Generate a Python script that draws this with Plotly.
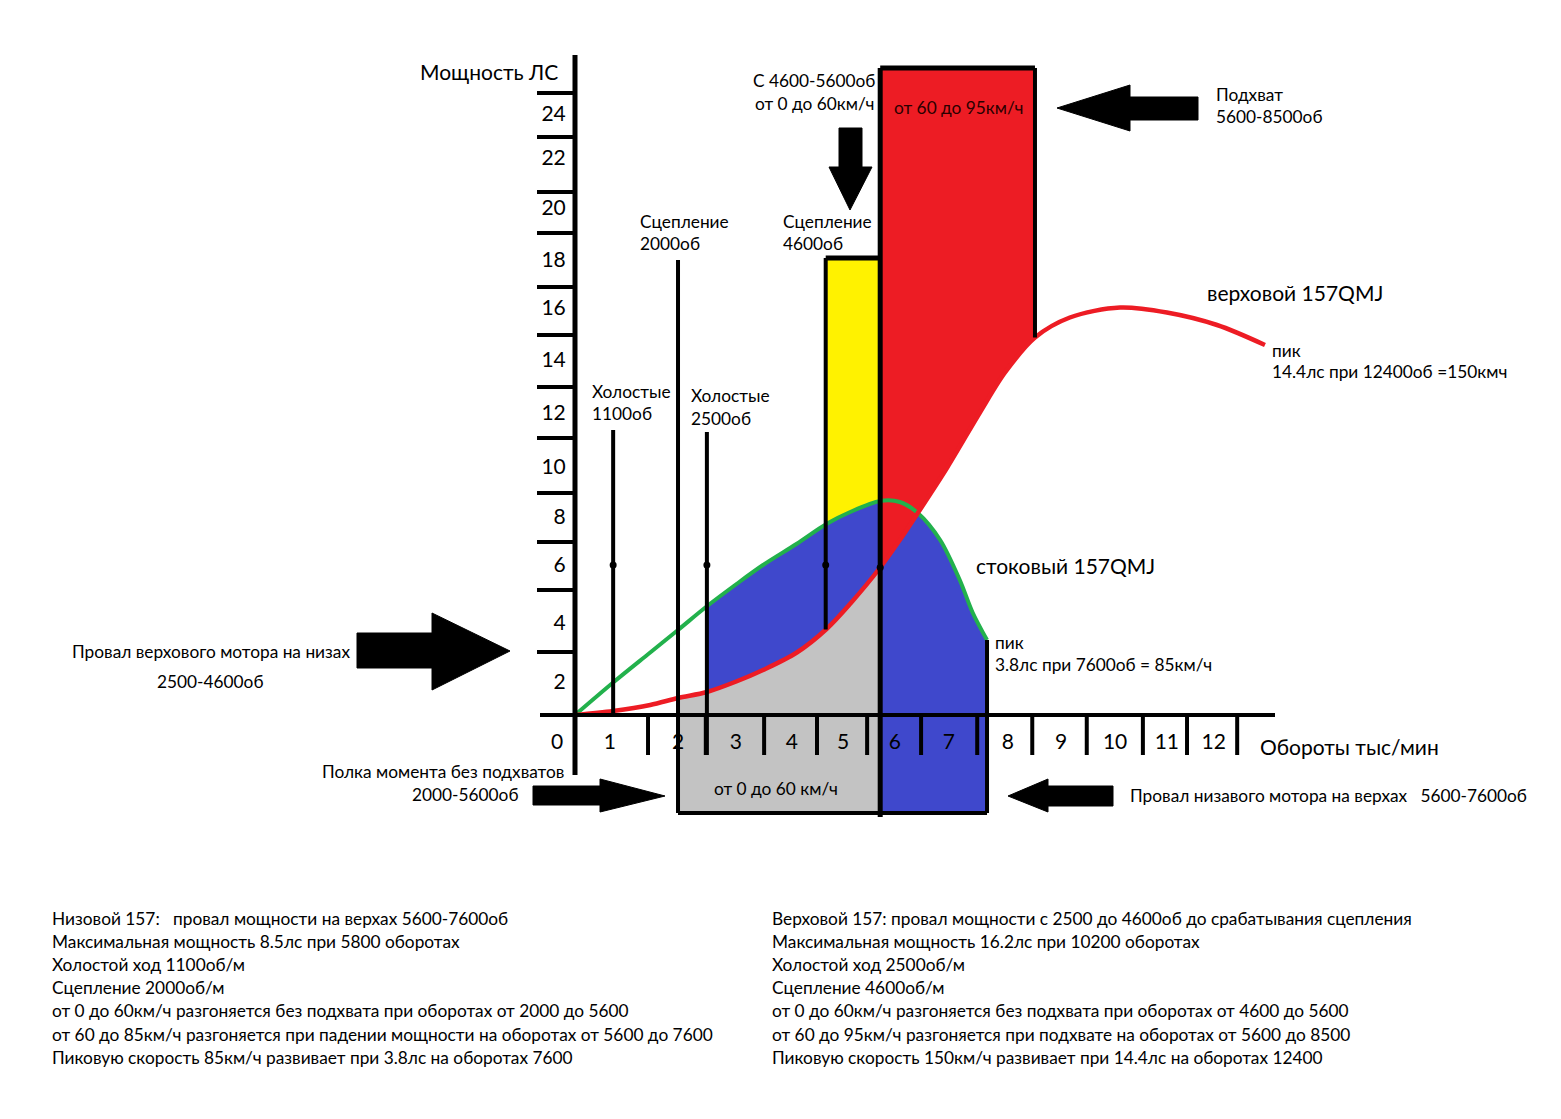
import plotly.graph_objects as go

# ---------------- data (x in thousand rpm, y in hp) ----------------
# stock engine (green) curve
stock_x = [0, 0.70, 1.38, 1.89, 2.42, 2.97, 3.45, 4.07, 4.62, 5.05, 5.60, 5.96, 6.29, 6.70, 7.06, 7.30, 7.56]
stock_y = [0, 1.30, 2.50, 3.40, 4.35, 5.25, 6.00, 6.85, 7.65, 8.12, 8.56, 8.52, 8.08, 7.00, 5.40, 4.08, 3.00]
# high-rev engine (red) curve
tuned_x = [0, 0.70, 1.38, 1.89, 2.42, 2.97, 3.45, 4.07, 4.62, 5.05, 5.60, 5.96, 6.29, 6.83, 7.43, 7.89, 8.44, 9.08, 10.0, 10.86, 11.78, 12.66]
tuned_y = [0, 0.16, 0.40, 0.68, 0.92, 1.35, 1.80, 2.50, 3.45, 4.45, 5.90, 7.00, 8.08, 9.90, 12.1, 13.7, 15.1, 15.9, 16.3, 16.1, 15.6, 14.8]

# marked rpm values (thousand rpm)
idle_low = 0.70      # 1100
clutch_low = 1.89    # 2000
idle_high = 2.42     # 2500
clutch_high = 4.60   # 4600
shift_rpm = 5.60     # 5600
stock_peak = 7.56    # 7600
tuned_pickup = 8.44  # 8500

# bar heights (hp)
pickup_top = 25.88
clutch_top = 18.28
clutch_low_top = 18.2
idle_top = 11.4
speed_box_bottom = -3.92

# axis tick labels and their positions
x_tick_text = ["0", "1", "2", "3", "4", "5", "6", "7", "8", "9", "10", "11", "12"]
x_tick_pos = [-0.33, 0.64, 1.89, 2.95, 3.98, 4.92, 5.87, 6.86, 7.94, 8.92, 9.91, 10.86, 11.72]
x_tick_marks = [1.34, 2.40, 3.47, 4.44, 5.36, 6.35, 7.38, 8.39, 9.39, 10.42, 11.23, 12.15]
y_tick_text = ["24", "22", "20", "18", "16", "14", "12", "10", "8", "6", "4", "2"]
y_tick_pos = [24.04, 22.28, 20.28, 18.2, 16.28, 14.2, 12.08, 9.92, 7.92, 6.0, 3.68, 1.32]
y_tick_marks = [24.88, 23.12, 20.92, 19.28, 17.12, 15.2, 13.12, 11.08, 8.88, 6.92, 5.0, 2.52]

# ---------------- geometry helpers ----------------
W, H = 1561, 1119
OFF = 8.0  # page body margin
X0PX, XS = 575.0, 54.5
Y0PX, YS = 715.0, 25.0
xr = [(OFF - X0PX) / XS, (OFF + W - X0PX) / XS]
yr = [(Y0PX - (OFF + H)) / YS, (Y0PX - OFF) / YS]

def dx(px):
    return (px - X0PX) / XS

def dy(py):
    return (Y0PX - py) / YS

def interp(xs, ys, x):
    for i in range(len(xs) - 1):
        if xs[i] <= x <= xs[i + 1]:
            t = (x - xs[i]) / (xs[i + 1] - xs[i])
            return ys[i] + t * (ys[i + 1] - ys[i])
    return ys[-1]

def seg(xs, ys, a, b):
    px_, py_ = [], []
    for x, y in zip(xs, ys):
        if a <= x <= b:
            px_.append(x); py_.append(y)
    return px_, py_

GRAY = "#c3c3c3"
BLUE = "#3f48cc"
RED = "#ed1c24"
YEL = "#fff200"
GRN = "#22b14c"
FONT = "Lato"
FS = 17.3

fig = go.Figure()

def poly(xs, ys, color):
    fig.add_trace(go.Scatter(x=xs + [xs[0]], y=ys + [ys[0]], mode="lines", fill="toself",
                             fillcolor=color, line=dict(width=0, color=color),
                             hoverinfo="skip", showlegend=False))

# gray: under red curve from clutch_low to shift + box under axis
rx, ry = seg(tuned_x, tuned_y, clutch_low, shift_rpm)
poly(rx + [shift_rpm, clutch_low], ry + [speed_box_bottom, speed_box_bottom], GRAY)

# blue left: between green and red from idle_high to shift
gx, gy = seg(stock_x, stock_y, idle_high, shift_rpm)
rx2, ry2 = seg(tuned_x, tuned_y, idle_high, shift_rpm)
poly(gx + rx2[::-1], gy + ry2[::-1], BLUE)

# blue right: under min(red, green) from shift to stock peak + box under axis
cross_x = 6.29
rx3, ry3 = seg(tuned_x, tuned_y, shift_rpm, cross_x)
gx3, gy3 = seg(stock_x, stock_y, cross_x + 0.01, stock_peak)
poly([shift_rpm] + rx3 + gx3 + [stock_peak],
     [speed_box_bottom] + ry3 + gy3 + [speed_box_bottom], BLUE)

# yellow: clutch engagement block
gx4, gy4 = seg(stock_x, stock_y, clutch_high, shift_rpm)
poly([clutch_high, shift_rpm] + gx4[::-1], [clutch_top, clutch_top] + gy4[::-1], YEL)

# red: pickup block above red curve
rx5, ry5 = seg(tuned_x, tuned_y, shift_rpm, tuned_pickup)
poly([shift_rpm, tuned_pickup] + rx5[::-1], [pickup_top, pickup_top] + ry5[::-1], RED)

# curves
fig.add_trace(go.Scatter(x=stock_x, y=stock_y, mode="lines", line=dict(color=GRN, width=4, shape="spline", smoothing=0.9),
                         hoverinfo="skip", showlegend=False))
fig.add_trace(go.Scatter(x=tuned_x, y=tuned_y, mode="lines", line=dict(color=RED, width=4.5, shape="spline", smoothing=0.9),
                         hoverinfo="skip", showlegend=False))

# ---------------- black lines (shapes) ----------------
shapes = []

def line(x0, y0, x1, y1, w=4, color="black"):
    shapes.append(dict(type="line", xref="x", yref="y", x0=x0, y0=y0, x1=x1, y1=y1,
                       line=dict(color=color, width=w), layer="above"))

# axes
line(0, dy(775), 0, dy(55), 5)
line(dx(540), 0, dx(1275), 0, 4)
for yv in y_tick_marks:
    line(dx(537), yv, 0, yv, 4)
for xv in x_tick_marks:
    line(xv, 0, xv, dy(755), 4)

# rpm markers
line(idle_low, 0, idle_low, idle_top, 4)
line(clutch_low, speed_box_bottom, clutch_low, clutch_low_top, 4)
line(idle_high, dy(755), idle_high, dy(432), 4)
line(clutch_high, interp(tuned_x, tuned_y, clutch_high), clutch_high, clutch_top, 4)
line(shift_rpm, dy(817), shift_rpm, pickup_top, 5)
line(stock_peak, speed_box_bottom, stock_peak, interp(stock_x, stock_y, stock_peak), 4)
line(tuned_pickup, interp(tuned_x, tuned_y, tuned_pickup), tuned_pickup, pickup_top, 4)
line(clutch_high, clutch_top, shift_rpm, clutch_top, 5)
line(shift_rpm, pickup_top, tuned_pickup, pickup_top, 5)
line(clutch_low, speed_box_bottom, stock_peak, speed_box_bottom, 4)

# block arrows (pixel outlines)
def arrow_path(pts):
    p = "M " + " L ".join(f"{dx(a):.4f},{dy(b):.4f}" for a, b in pts) + " Z"
    shapes.append(dict(type="path", xref="x", yref="y", path=p, fillcolor="black",
                       line=dict(color="black", width=1), layer="above"))

arrow_path([(357, 633), (432, 633), (432, 613), (510, 651), (432, 690), (432, 668), (357, 668)])
arrow_path([(1198, 97), (1130, 97), (1130, 85), (1057, 108), (1130, 131), (1130, 120), (1198, 120)])
arrow_path([(839, 128), (862, 128), (862, 167), (872, 167), (850, 210), (829, 167), (839, 167)])
arrow_path([(533, 786), (600, 786), (600, 779), (665, 796), (600, 812), (600, 805), (533, 805)])
arrow_path([(1113, 786), (1048, 786), (1048, 779), (1008, 796), (1048, 812), (1048, 806), (1113, 806)])

# dots at 6 hp
fig.add_trace(go.Scatter(x=[idle_low, idle_high, clutch_high, shift_rpm], y=[6, 6, 6, 5.9], mode="markers",
                         marker=dict(color="black", size=7), hoverinfo="skip", showlegend=False))

# ---------------- annotations ----------------
anns = []

def txt(px, py, s, size=FS, anchor="left", color="black"):
    anns.append(dict(x=(px - OFF) / W, y=1 - (py - OFF) / H, xref="paper", yref="paper", text=s, showarrow=False,
                     xanchor=anchor, yanchor="middle", font=dict(family=FONT, size=size, color=color)))

txt(418, 71, "Мощность ЛС", 21)
txt(877, 81, "С 4600-5600об", FS, "right")
txt(877, 103, "от 0 до 60км/ч", FS, "right")
txt(959, 107, "от 60 до 95км/ч", FS, "center", "#2a0000")
txt(1214, 94, "Подхват")
txt(1214, 117, "5600-8500об")
txt(638, 221, "Сцепление")
txt(638, 243, "2000об")
txt(781, 221, "Сцепление")
txt(781, 243, "4600об")
txt(1205, 292, "верховой 157QMJ", 21)
txt(1270, 350, "пик")
txt(1270, 372, "14.4лс при 12400об =150кмч")
txt(590, 391, "Холостые")
txt(590, 413, "1100об")
txt(689, 395, "Холостые")
txt(689, 418, "2500об")
txt(974, 565, "стоковый 157QMJ", 21)
txt(993, 642, "пик")
txt(993, 664, "3.8лс при 7600об = 85км/ч")
txt(70, 651, "Провал верхового мотора на низах")
txt(211, 681, "2500-4600об", FS, "center")
txt(1258, 746, "Обороты тыс/мин", 21)
txt(320, 771, "Полка момента без подхватов")
txt(521, 794, "2000-5600об", FS, "right")
txt(776, 789, "от 0 до 60 км/ч", FS, "center")
txt(1128, 795, "Провал низавого мотора на верхах   5600-7600об")

left_block = [
    "Низовой 157:   провал мощности на верхах 5600-7600об",
    "Максимальная мощность 8.5лс при 5800 оборотах",
    "Холостой ход 1100об/м",
    "Сцепление 2000об/м",
    "от 0 до 60км/ч разгоняется без подхвата при оборотах от 2000 до 5600",
    "от 60 до 85км/ч разгоняется при падении мощности на оборотах от 5600 до 7600",
    "Пиковую скорость 85км/ч развивает при 3.8лс на оборотах 7600",
]
right_block = [
    "Верховой 157: провал мощности с 2500 до 4600об до срабатывания сцепления",
    "Максимальная мощность 16.2лс при 10200 оборотах",
    "Холостой ход 2500об/м",
    "Сцепление 4600об/м",
    "от 0 до 60км/ч разгоняется без подхвата при оборотах от 4600 до 5600",
    "от 60 до 95км/ч разгоняется при подхвате на оборотах от 5600 до 8500",
    "Пиковую скорость 150км/ч развивает при 14.4лс на оборотах 12400",
]
for i, s in enumerate(left_block):
    txt(50, 918 + i * 23.2, s)
for i, s in enumerate(right_block):
    txt(770, 918 + i * 23.2, s)

fig.update_layout(
    width=W, height=H, margin=dict(l=0, r=0, t=0, b=0),
    paper_bgcolor="white", plot_bgcolor="white",
    shapes=shapes, annotations=anns, showlegend=False,
    xaxis=dict(range=xr, domain=[0, 1], showgrid=False, zeroline=False, showline=False,
               tickmode="array", tickvals=x_tick_pos, ticktext=x_tick_text,
               ticks="outside", ticklen=8, tickcolor="rgba(0,0,0,0)",
               tickfont=dict(family=FONT, size=21, color="black"),
               anchor="free", position=1 - (715 - OFF) / H, automargin=False, fixedrange=True),
    yaxis=dict(range=yr, domain=[0, 1], showgrid=False, zeroline=False, showline=False,
               tickmode="array", tickvals=y_tick_pos, ticktext=y_tick_text,
               ticks="outside", ticklen=5, tickcolor="rgba(0,0,0,0)",
               tickfont=dict(family=FONT, size=21, color="black"),
               anchor="free", position=(575 - OFF) / W, automargin=False, fixedrange=True),
)

fig.write_html("out.html", config={"displayModeBar": False})
